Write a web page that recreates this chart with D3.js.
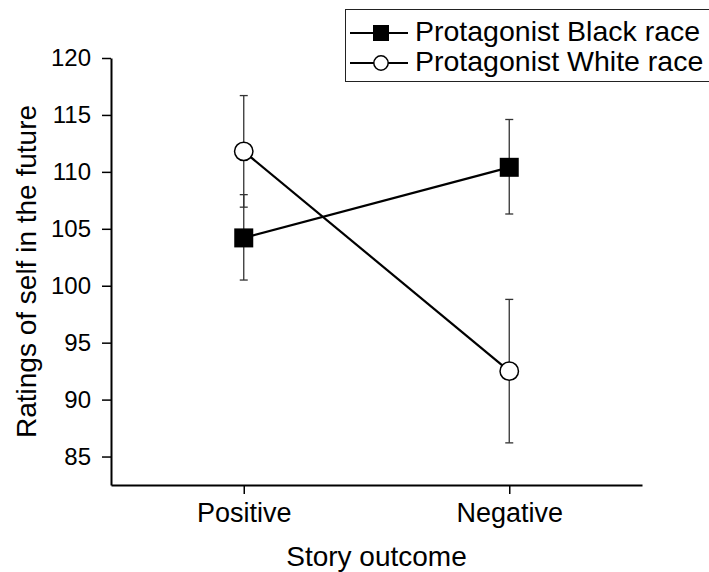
<!DOCTYPE html>
<html>
<head>
<meta charset="utf-8">
<script src="https://cdn.jsdelivr.net/npm/d3@7"></script>
<style>
  body { margin: 0; background: #fff; }
  svg text { font-family: Arial, "Liberation Sans", sans-serif; fill: #000; }
</style>
</head>
<body>
<div id="chart"></div>
<script>
// chart values
const outcomes = ['Positive', 'Negative'];
const seriesNames = ['Protagonist Black race', 'Protagonist White race'];
const blackMeans = [104.2, 110.4];
const blackLow = [100.5, 106.3];
const blackHigh = [108.0, 114.6];
const whiteMeans = [111.8, 92.5];
const whiteLow = [106.9, 86.2];
const whiteHigh = [116.7, 98.8];
const yTicks = [85, 90, 95, 100, 105, 110, 115, 120];

const width = 709;
const height = 572;
const margin = { top: 58, right: 67, bottom: 87, left: 111 };

const svg = d3.select('#chart').append('svg')
  .attr('width', width)
  .attr('height', height);

const x = d3.scalePoint()
  .domain(outcomes)
  .range([margin.left, width - margin.right])
  .padding(0.5);

const y = d3.scaleLinear()
  .domain([82.5, 120])
  .range([height - margin.bottom, margin.top]);

// axes
const yAxisG = svg.append('g')
  .attr('transform', `translate(${margin.left},0)`)
  .call(d3.axisLeft(y).tickValues(yTicks).tickSize(9).tickSizeOuter(0).tickPadding(11));

const xAxisG = svg.append('g')
  .attr('transform', `translate(0,${height - margin.bottom})`)
  .call(d3.axisBottom(x).tickSize(9).tickSizeOuter(0).tickPadding(9));

[yAxisG, xAxisG].forEach((g) => {
  g.selectAll('path.domain').attr('stroke', '#000').attr('stroke-width', 2);
  g.selectAll('.tick line').attr('stroke', '#000').attr('stroke-width', 1.5);
  g.selectAll('.tick text')
    .attr('fill', '#000')
    .style('font-family', 'Arial, "Liberation Sans", sans-serif');
});
yAxisG.selectAll('.tick text').style('font-size', '24px');
xAxisG.selectAll('.tick text').style('font-size', '27px');

// axis titles
svg.append('text')
  .attr('x', (margin.left + width - margin.right) / 2)
  .attr('y', 566)
  .attr('text-anchor', 'middle')
  .style('font-size', '28px')
  .text('Story outcome');

svg.append('text')
  .attr('transform', `translate(36,${(margin.top + height - margin.bottom) / 2}) rotate(-90)`)
  .attr('text-anchor', 'middle')
  .style('font-size', '28px')
  .text('Ratings of self in the future');

const series = [
  { name: seriesNames[0], means: blackMeans, low: blackLow, high: blackHigh, shape: 'square' },
  { name: seriesNames[1], means: whiteMeans, low: whiteLow, high: whiteHigh, shape: 'circle' },
];

const line = d3.line()
  .x((d, i) => x(outcomes[i]))
  .y((d) => y(d));

// error bars
series.forEach((s) => {
  const g = svg.append('g').attr('stroke', '#333').attr('stroke-width', 1.3);
  outcomes.forEach((o, i) => {
    const cx = x(o);
    g.append('line')
      .attr('x1', cx).attr('x2', cx)
      .attr('y1', y(s.low[i])).attr('y2', y(s.high[i]));
    [s.low[i], s.high[i]].forEach((v) => {
      g.append('line')
        .attr('x1', cx - 4).attr('x2', cx + 4)
        .attr('y1', y(v)).attr('y2', y(v));
    });
  });
});

// lines and markers
function drawMarker(g, shape, cx, cy, size) {
  if (shape === 'square') {
    g.append('rect')
      .attr('x', cx - size / 2).attr('y', cy - size / 2)
      .attr('width', size).attr('height', size)
      .attr('fill', '#000');
  } else {
    g.append('circle')
      .attr('cx', cx).attr('cy', cy)
      .attr('r', size / 2 - 0.3)
      .attr('fill', '#fff')
      .attr('stroke', '#000')
      .attr('stroke-width', 1.5);
  }
}

series.forEach((s) => {
  svg.append('path')
    .datum(s.means)
    .attr('d', line)
    .attr('fill', 'none')
    .attr('stroke', '#000')
    .attr('stroke-width', 2.2);
  const g = svg.append('g');
  s.means.forEach((v, i) => drawMarker(g, s.shape, x(outcomes[i]), y(v), 19));
});

// legend
const legend = svg.append('g');
legend.append('rect')
  .attr('x', 345.5).attr('y', 9.5)
  .attr('width', 370).attr('height', 72)
  .attr('fill', '#fff')
  .attr('stroke', '#222')
  .attr('stroke-width', 1);

series.forEach((s, i) => {
  const ly = 33 + i * 30;
  legend.append('line')
    .attr('x1', 350).attr('x2', 408)
    .attr('y1', ly).attr('y2', ly)
    .attr('stroke', '#000')
    .attr('stroke-width', 2);
  drawMarker(legend, s.shape, 381, ly, s.shape === 'square' ? 16 : 15);
  legend.append('text')
    .attr('x', 415)
    .attr('y', ly + 8)
    .style('font-size', '28.5px')
    .text(s.name);
});
</script>
</body>
</html>
